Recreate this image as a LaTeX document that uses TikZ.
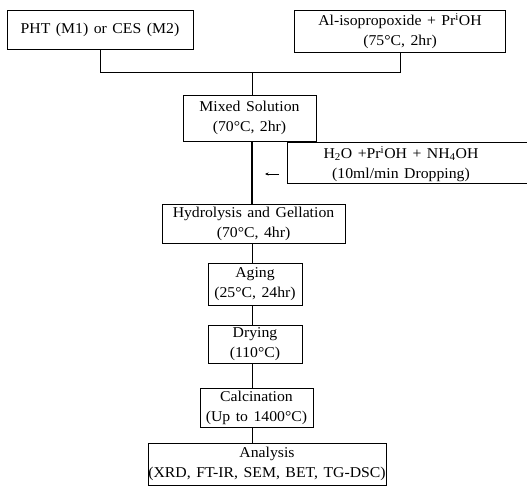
\documentclass[tikz,border=0pt]{standalone}
\usepackage{fontspec}
\setmainfont{Liberation Serif}[FakeStretch=1.05,WordSpace=1.4]
\usetikzlibrary{arrows.meta}
\begin{document}
\begin{tikzpicture}[x=1pt,y=-1pt,
  txt/.style={inner sep=0pt, align=center, font=\fontsize{15}{20}\selectfont},
  box/.style={txt, draw, line width=0.7pt},
  link/.style={line width=0.8pt},
  mainlink/.style={line width=1.6pt}]
\useasboundingbox (0,0) rectangle (527,487);
\node[box, minimum width=186pt, minimum height=39pt] (pht) at (100,29.5) {PHT (M1) or CES (M2)};
\node[box, minimum width=211pt, minimum height=42pt] (al) at (400,31) {Al-isopropoxide + Pr\textsuperscript{i}OH\\(75°C, 2hr)};
\node[box, minimum width=133pt, minimum height=46pt] (mix) at (249.5,118) {Mixed Solution\\(70°C, 2hr)};
\node[txt] (drop) at (401,164) {H\textsubscript{2}O +Pr\textsuperscript{i}OH + NH\textsubscript{4}OH\\(10ml/min Dropping)};
\draw[line width=0.7pt] (530,142) -- (287,142) -- (287,183) -- (530,183);
\node[box, minimum width=183pt, minimum height=39pt] (hyd) at (253.5,223.5) {Hydrolysis and Gellation\\(70°C, 4hr)};
\node[box, minimum width=94pt, minimum height=42pt] (age) at (255,284) {Aging\\(25°C, 24hr)};
\node[box, minimum width=94pt, minimum height=38pt] (dry) at (255,344) {Drying\\(110°C)};
\node[box, minimum width=113pt, minimum height=39pt] (cal) at (256.5,407.5) {Calcination\\(Up to 1400°C)};
\node[box, minimum width=238pt, minimum height=42pt] (ana) at (267,464) {Analysis\\(XRD, FT-IR, SEM, BET, TG-DSC)};
\coordinate (sp) at (252,72);
\coordinate (arrS) at (279,174);
\coordinate (arrE) at (265,174);
\draw[link] (pht.south) -- (pht.south |- sp) -- (al.south |- sp) -- (al.south);
\draw[link] (sp) -- (sp |- mix.north);
\draw[mainlink] (sp |- mix.south) -- (sp |- hyd.north);
\draw[link] (sp |- hyd.south) -- (sp |- age.north);
\draw[link] (sp |- age.south) -- (sp |- dry.north);
\draw[link] (sp |- dry.south) -- (sp |- cal.north);
\draw[link] (sp |- cal.south) -- (sp |- ana.north);
\draw[-{Stealth[length=3.5pt,width=3pt]}, line width=0.6pt] (arrS) -- (arrE);
\end{tikzpicture}
\end{document}
